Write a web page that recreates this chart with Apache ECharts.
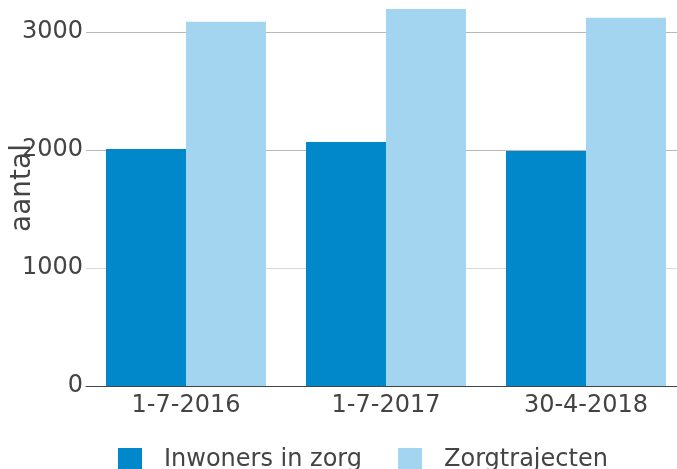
<!DOCTYPE html>
<html>
<head>
<meta charset="utf-8">
<script src="https://cdn.jsdelivr.net/npm/echarts@6/dist/echarts.min.js"></script>
<style>
  html, body { margin: 0; padding: 0; background: #fff; }
  #chart { width: 677px; height: 469px; }
</style>
</head>
<body>
<div id="chart"></div>
<script>
var categories = ["1-7-2016", "1-7-2017", "30-4-2018"]
var inwoners = [2008, 2068, 1992]
var zorgtrajecten = [3085, 3195, 3119]
var yTicks = [0, 1000, 2000, 3000]

var chart = echarts.init(document.getElementById("chart"))
var txt = "#444"
var font = "DejaVu Sans, Verdana, sans-serif"

chart.setOption({
  animation: false,
  textStyle: { fontFamily: font },
  legend: {
    left: 113,
    top: 443,
    itemWidth: 24,
    itemHeight: 24,
    itemGap: 36,
    icon: "rect",
    textStyle: { color: txt, fontSize: 24, fontFamily: font, padding: [0, 0, 0, 17] },
    data: ["Inwoners in zorg", "Zorgtrajecten"],
  },
  grid: {
    left: 86,
    right: -9,
    top: -10,
    bottom: 83,
    containLabel: false,
    outerBoundsMode: "none",
  },
  xAxis: {
    type: "category",
    data: categories,
    axisLine: { lineStyle: { color: "#444", width: 1 } },
    axisTick: { show: false },
    axisLabel: { color: txt, fontSize: 24, fontFamily: font, margin: 8 },
  },
  yAxis: {
    type: "value",
    min: 0,
    max: 3355,
    interval: 1000,
    name: "aantal",
    nameLocation: "middle",
    nameGap: 49,
    nameMoveOverlap: false,
    nameTextStyle: { color: txt, fontSize: 28, fontFamily: font },
    axisLine: { show: false },
    axisTick: { show: false },
    axisLabel: {
      color: txt,
      fontSize: 24,
      fontFamily: font,
      margin: 3,
      formatter: function (v) {
        return yTicks.indexOf(v) >= 0 ? String(v) : ""
      },
    },
    splitLine: {
      lineStyle: { color: ["#ddd", "#d9d9d9", "#b8b8b8", "#b8b8b8", "#fff"], width: 1 },
    },
  },
  series: [
    {
      name: "Inwoners in zorg",
      type: "bar",
      data: inwoners,
      barGap: "0%",
      barCategoryGap: "20%",
      itemStyle: { color: "#0088cb" },
    },
    {
      name: "Zorgtrajecten",
      type: "bar",
      data: zorgtrajecten,
      itemStyle: { color: "#a3d5f1" },
    },
  ],
})
</script>
</body>
</html>
